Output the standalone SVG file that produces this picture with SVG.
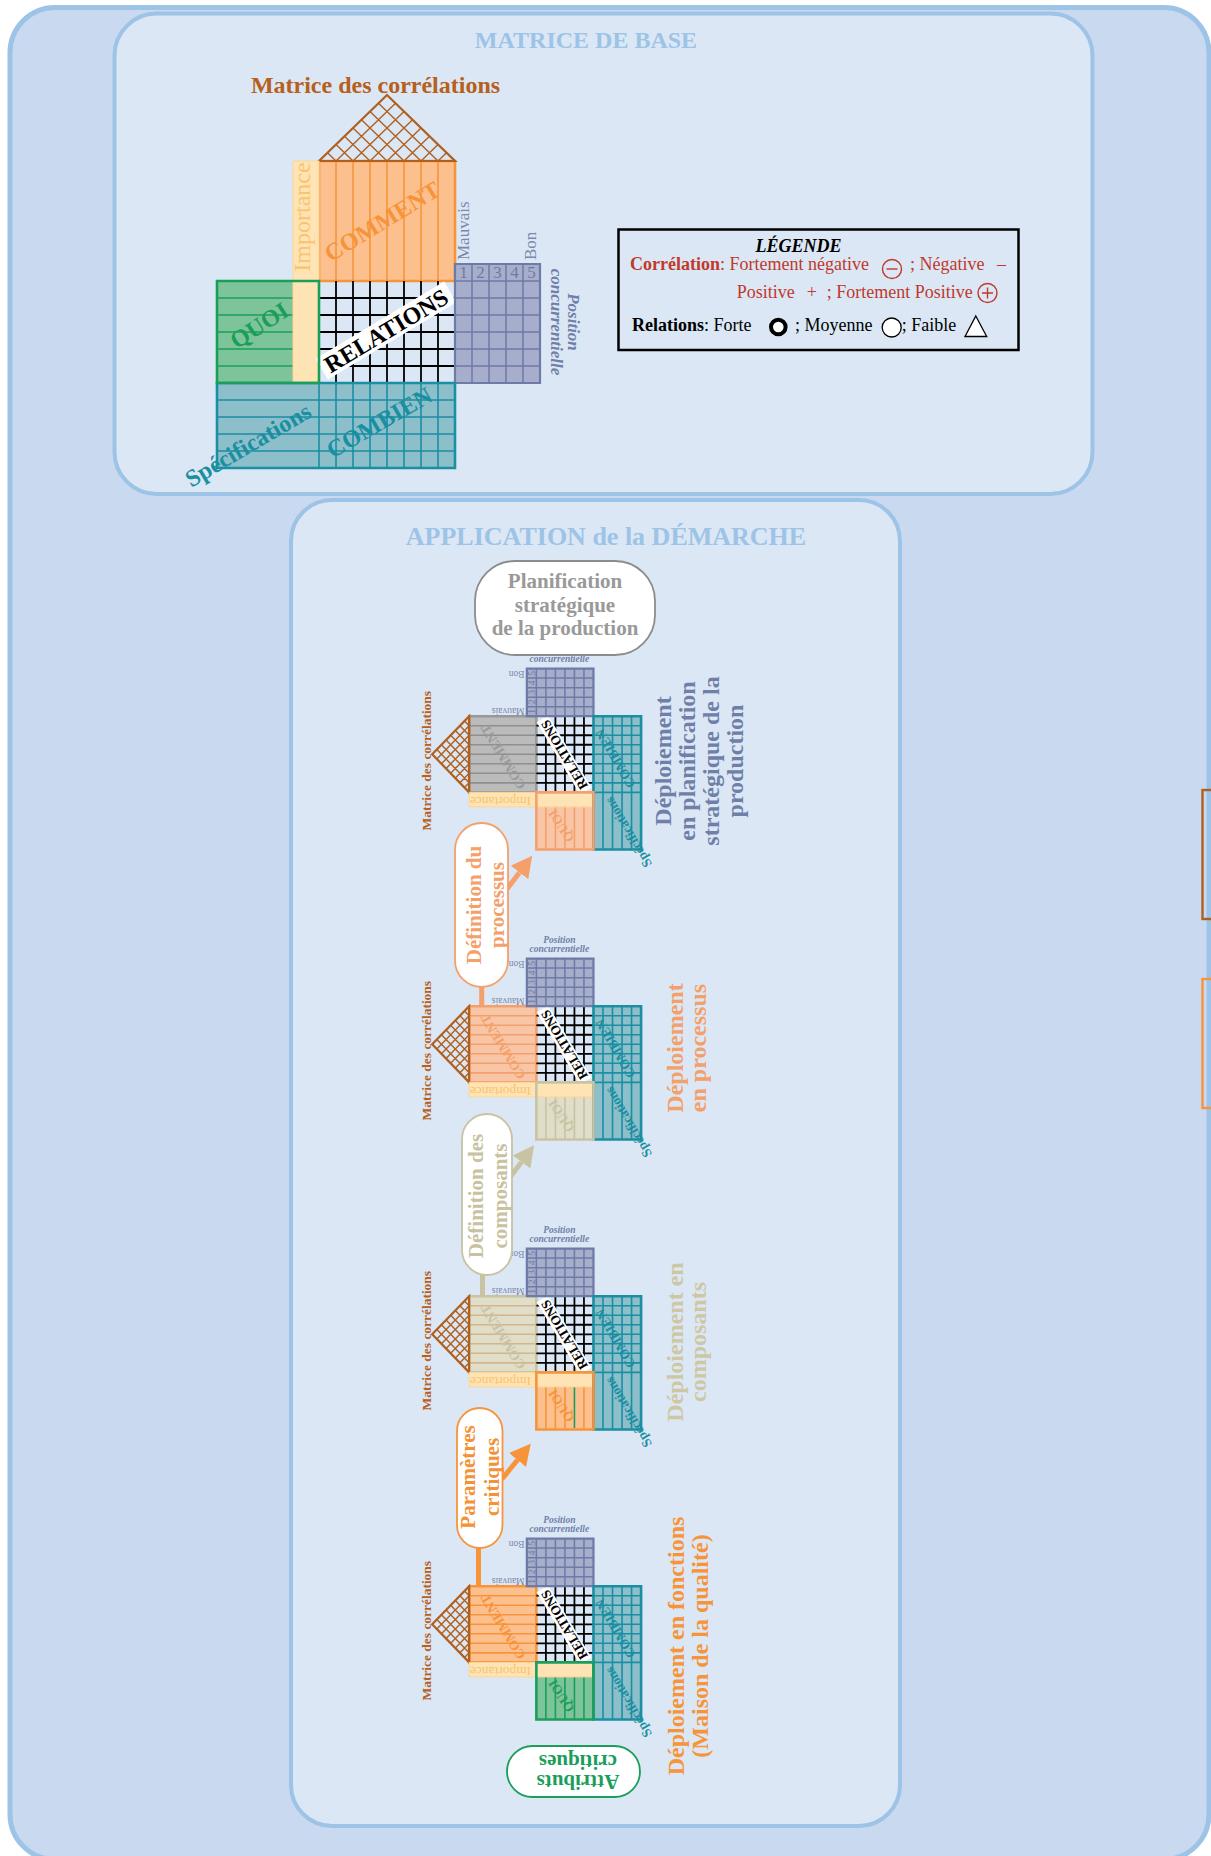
<svg xmlns="http://www.w3.org/2000/svg" width="1211" height="1856" viewBox="0 0 1211 1856">
<style>
  text { font-family: "Liberation Serif", "Times New Roman", serif; }
  .frame { fill:#c9daf0; stroke:#9dc3e6; stroke-width:5; }
  .panel { fill:#dbe7f5; stroke:#9dc3e6; stroke-width:4; }
  .title { fill:#9dc3e6; font-weight:bold; text-anchor:middle; }
  .ve { vector-effect:non-scaling-stroke; }
  .roof { fill:none; stroke:#b0601e; stroke-width:2.2; stroke-linejoin:miter; }
  .hatch { fill:none; stroke:#b0601e; stroke-width:1.4; }
  .imp { fill:#fee3b4; stroke:#fdd596; stroke-width:1; }
  .imp-t { fill:#f9c46e; font-size:24px; text-anchor:middle; }
  .grid { fill:none; stroke:#000; stroke-width:1.8; }
  .pos { fill:#a7aecc; stroke:#6d7ba6; stroke-width:2.2; }
  .pos-l { fill:none; stroke:#6d7ba6; stroke-width:1.5; }
  .pos-n { fill:#6f7aa3; font-size:17px; text-anchor:middle; }
  .pos-t { fill:#7d87ab; font-size:17px; }
  .pos-h { fill:#6f7fa8; font-size:17px; font-weight:bold; font-style:italic; text-anchor:middle; }
  .cmb { fill:#8dbfca; stroke:#1a8fa2; stroke-width:2.6; }
  .cmb-l { fill:none; stroke:#1a8fa2; stroke-width:1.6; }
  .lab { font-size:24px; font-weight:bold; text-anchor:middle; }
  .roof-t { fill:#b6601c; font-size:24px; font-weight:bold; text-anchor:middle; }
  .box { stroke-width:2.6; }
  .stripe { fill:none; stroke-width:1.6; }
  .t-teal { fill:#1a8fa2; }
  .f-green { fill:#7ec49b; } .s-green { stroke:#1a9e5a; } .t-green { fill:#1a9e5a; }
  .f-orange { fill:#fcc08e; } .s-orange { stroke:#f7943a; } .t-orange { fill:#f7943a; }
  .f-salmon { fill:#f8c6a6; } .s-salmon { stroke:#f4a06b; } .t-salmon { fill:#f4a06b; }
  .f-khaki { fill:#e0ddc9; } .s-khaki { stroke:#c8c3a3; } .t-khaki { fill:#c8c3a3; }
  .f-gray { fill:#bbbbbb; } .s-gray { stroke:#999999; } .t-gray { fill:#9a9a9a; }
  .s-gray2 { stroke:#8f8f8f; } .s-tan { stroke:#d2b68c; }
  .bubble { fill:#ffffff; stroke-width:1.8; }
  .btxt { font-size:21px; font-weight:bold; text-anchor:middle; }
  .side { font-size:24px; font-weight:bold; text-anchor:middle; }
  .stem { fill:none; stroke-width:5; }
  .leg { font-size:18px; }
  .red { fill:#c0392b; }
</style>
<defs>
  <marker id="ah-salmon" markerUnits="userSpaceOnUse" markerWidth="22" markerHeight="24" viewBox="0 0 22 24" refX="0" refY="12" orient="auto"><path d="M0,1 L21,12 L0,23 Z" fill="#f4a06b"/></marker>
  <marker id="ah-khaki" markerUnits="userSpaceOnUse" markerWidth="22" markerHeight="24" viewBox="0 0 22 24" refX="0" refY="12" orient="auto"><path d="M0,1 L21,12 L0,23 Z" fill="#c8c3a3"/></marker>
  <marker id="ah-orange" markerUnits="userSpaceOnUse" markerWidth="22" markerHeight="24" viewBox="0 0 22 24" refX="0" refY="12" orient="auto"><path d="M0,1 L21,12 L0,23 Z" fill="#f7943a"/></marker>

  <!-- shared body of the house of quality: roof, importance, relations, position, how much -->
  <g id="core">
    <path class="hatch ve" d="M336,161L395.5,103.25M353,161L404,111.5M370,161L412.5,119.75M387,161L421,128M404,161L429.5,136.25M421,161L438,144.5M438,161L446.5,152.75M336,161L327.5,152.75M353,161L336,144.5M370,161L344.5,136.25M387,161L353,128M404,161L361.5,119.75M421,161L370,111.5M438,161L378.5,103.25"/>
    <path class="roof ve" d="M319,161L387,95L455,161Z"/>
    <text class="roof-t" x="375.5" y="93">Matrice des corrélations</text>
    <rect class="imp ve" x="293" y="161" width="26" height="222"/>
    <text class="imp-t" transform="translate(310,217) rotate(-90)">Importance</text>
    <path class="grid ve" d="M336,281V383M353,281V383M370,281V383M387,281V383M404,281V383M421,281V383M438,281V383M319,298H455M319,315H455M319,332H455M319,349H455M319,366H455"/>
    <g transform="translate(386,330.5) rotate(-31)">
      <rect x="-75" y="-12" width="150" height="24" fill="#ffffff"/>
      <text class="lab" y="8.5" fill="#000">RELATIONS</text>
    </g>
    <rect class="pos ve" x="455" y="264" width="85" height="119"/>
    <path class="pos-l ve" d="M472,264V383M489,264V383M506,264V383M523,264V383M455,281H540M455,298H540M455,315H540M455,332H540M455,349H540M455,366H540"/>
    <text class="pos-n" y="278"><tspan x="463.5">1</tspan><tspan x="480.5">2</tspan><tspan x="497.5">3</tspan><tspan x="514.5">4</tspan><tspan x="531.5">5</tspan></text>
    <text class="pos-t" transform="translate(469,260) rotate(-90)">Mauvais</text>
    <text class="pos-t" transform="translate(536,260) rotate(-90)">Bon</text>
    <text class="pos-h" transform="translate(568,322) rotate(90)"><tspan x="0" y="0">Position</tspan><tspan x="0" dy="17">concurrentielle</tspan></text>
    <rect class="cmb ve" x="217" y="383" width="238" height="85"/>
    <path class="cmb-l ve" d="M319,383V468M336,383V468M353,383V468M370,383V468M387,383V468M404,383V468M421,383V468M438,383V468M217,400H455M217,417H455M217,434H455M217,451H455"/>
    <text class="lab t-teal" transform="translate(379,422) rotate(-30)" y="8.5">COMBIEN</text>
    <text class="lab t-teal" transform="translate(248,445) rotate(-30.5)" y="8">Spécifications</text>
  </g>
</defs>

<!-- background frame and panels -->
<rect class="frame" x="10" y="7.5" width="1199" height="1852" rx="45"/>
<rect x="1202.5" y="790" width="20" height="129" fill="none" stroke="#b0601e" stroke-width="2.4"/>
<rect x="1202.5" y="979" width="20" height="129" fill="none" stroke="#f7943a" stroke-width="2.4"/>

<g id="panel-base">
  <rect class="panel" x="114.5" y="13.5" width="978" height="480.5" rx="42"/>
  <text class="title" x="586" y="48" font-size="24">MATRICE DE BASE</text>
</g>
<g id="panel-application">
  <rect class="panel" x="291" y="500" width="609" height="1326" rx="41"/>
  <text class="title" x="606" y="545" font-size="26">APPLICATION de la DÉMARCHE</text>
</g>

<!-- reference house -->
<g id="house-base">
  <rect class="f-green" x="217" y="281" width="102" height="102"/>
  <path class="s-green stripe ve" d="M217,298H319M217,315H319M217,332H319M217,349H319M217,366H319"/>
  <text class="lab t-green" transform="translate(259,325) rotate(-33)" y="8.5">QUOI</text>
  <rect class="f-orange s-orange box ve" x="319" y="161" width="136" height="120"/>
  <path class="s-orange stripe ve" d="M336,161V281M353,161V281M370,161V281M387,161V281M404,161V281M421,161V281M438,161V281"/>
  <use href="#core"/>
  <rect class="s-green box ve" fill="none" x="217" y="281" width="102" height="102"/>
  <text class="lab t-orange" transform="translate(382,221) rotate(-31.5)" y="8.5">COMMENT</text>
</g>

<!-- legend -->
<g id="legend">
  <rect x="618.5" y="229.5" width="400" height="120.5" fill="none" stroke="#000" stroke-width="2.5"/>
  <text class="leg" x="798.5" y="252" font-weight="bold" font-style="italic" text-anchor="middle">LÉGENDE</text>
  <text class="leg red" y="270"><tspan x="630" font-weight="bold">Corrélation</tspan>: Fortement négative</text>
  <circle cx="892" cy="269" r="9.5" fill="none" stroke="#c0392b" stroke-width="1.4"/>
  <path d="M886.5,269H897.5" stroke="#c0392b" stroke-width="1.4"/>
  <text class="leg red" x="910" y="270">; Négative</text>
  <text class="leg red" x="997" y="270">–</text>
  <text class="leg red" y="298"><tspan x="736.7">Positive</tspan><tspan x="806.7">+</tspan><tspan x="826.7">; Fortement Positive</tspan></text>
  <circle cx="987.5" cy="293" r="9.5" fill="none" stroke="#c0392b" stroke-width="1.4"/>
  <path d="M982,293H993M987.5,287.5V298.5" stroke="#c0392b" stroke-width="1.4"/>
  <text class="leg" y="331"><tspan x="632" font-weight="bold">Relations</tspan>: Forte</text>
  <circle cx="778.3" cy="327" r="7.3" fill="#fff" stroke="#000" stroke-width="4"/>
  <text class="leg" x="795" y="331">; Moyenne</text>
  <circle cx="891.7" cy="327.5" r="9.5" fill="#fff" stroke="#000" stroke-width="1.3"/>
  <text class="leg" x="901.7" y="331">; Faible</text>
  <path d="M975.8,316L986.7,336.5L965,336.5Z" fill="#fff" stroke="#000" stroke-width="1.3"/>
</g>

<!-- deployment cascade: four rotated houses -->
<g id="house-strategie" transform="translate(379 971) scale(0.56) rotate(-90)">
  <rect class="f-salmon" x="217" y="281" width="102" height="102"/>
  <path class="s-salmon stripe ve" d="M217,298H319M217,315H319M217,332H319M217,349H319M217,366H319"/>
  <text class="lab t-salmon" transform="translate(259,325) rotate(-33)" y="8.5">QUOI</text>
  <rect class="f-gray s-gray box ve" x="319" y="161" width="136" height="120"/>
  <path class="s-gray2 stripe ve" d="M336,161V281M353,161V281M370,161V281M387,161V281M404,161V281M421,161V281M438,161V281"/>
  <use href="#core"/>
  <rect class="s-salmon box ve" fill="none" x="217" y="281" width="102" height="102"/>
  <text class="lab t-gray" transform="translate(382,221) rotate(-31.5)" y="8.5">COMMENT</text>
</g>
<g id="house-processus" transform="translate(379 1261) scale(0.56) rotate(-90)">
  <rect class="f-khaki" x="217" y="281" width="102" height="102"/>
  <path class="s-khaki stripe ve" d="M217,298H319M217,315H319M217,332H319M217,349H319M217,366H319"/>
  <text class="lab t-khaki" transform="translate(259,325) rotate(-33)" y="8.5">QUOI</text>
  <rect class="f-salmon s-salmon box ve" x="319" y="161" width="136" height="120"/>
  <path class="s-salmon stripe ve" d="M336,161V281M353,161V281M370,161V281M387,161V281M404,161V281M421,161V281M438,161V281"/>
  <use href="#core"/>
  <rect class="s-khaki box ve" fill="none" x="217" y="281" width="102" height="102"/>
  <text class="lab t-salmon" transform="translate(382,221) rotate(-31.5)" y="8.5">COMMENT</text>
</g>
<g id="house-composants" transform="translate(379 1551) scale(0.56) rotate(-90)">
  <rect class="f-orange" x="217" y="281" width="102" height="102"/>
  <path class="s-orange stripe ve" d="M217,298H319M217,315H319M217,332H319M217,366H319"/>
  <path class="s-green stripe ve" d="M219,349H318"/>
  <text class="lab t-orange" transform="translate(259,325) rotate(-33)" y="8.5">QUOI</text>
  <rect class="f-khaki s-khaki box ve" x="319" y="161" width="136" height="120"/>
  <path class="s-tan stripe ve" d="M336,161V281M353,161V281M370,161V281M387,161V281M404,161V281M421,161V281M438,161V281"/>
  <use href="#core"/>
  <rect class="s-orange box ve" fill="none" x="217" y="281" width="102" height="102"/>
  <text class="lab t-khaki" transform="translate(382,221) rotate(-31.5)" y="8.5">COMMENT</text>
</g>
<g id="house-fonctions" transform="translate(379 1841) scale(0.56) rotate(-90)">
  <rect class="f-green" x="217" y="281" width="102" height="102"/>
  <path class="s-green stripe ve" d="M217,298H319M217,315H319M217,332H319M217,349H319M217,366H319"/>
  <text class="lab t-green" transform="translate(259,325) rotate(-33)" y="8.5">QUOI</text>
  <rect class="f-orange s-orange box ve" x="319" y="161" width="136" height="120"/>
  <path class="s-orange stripe ve" d="M336,161V281M353,161V281M370,161V281M387,161V281M404,161V281M421,161V281M438,161V281"/>
  <use href="#core"/>
  <rect class="s-green box ve" fill="none" x="217" y="281" width="102" height="102"/>
  <text class="lab t-orange" transform="translate(382,221) rotate(-31.5)" y="8.5">COMMENT</text>
</g>

<!-- level captions -->
<g id="caption-strategie">
  <text class="side" fill="#6f7fa8" transform="translate(671,761) rotate(-90)"><tspan x="0" y="0">Déploiement</tspan><tspan x="0" dy="24">en planification</tspan><tspan x="0" dy="24">stratégique de la</tspan><tspan x="0" dy="24">production</tspan></text>
</g>
<g id="caption-processus">
  <text class="side" fill="#f4a06b" transform="translate(683,1048) rotate(-90)"><tspan x="0" y="0">Déploiement</tspan><tspan x="0" dy="23">en processus</tspan></text>
</g>
<g id="caption-composants">
  <text class="side" fill="#cdc7a4" transform="translate(683,1342) rotate(-90)"><tspan x="0" y="0">Déploiement en</tspan><tspan x="0" dy="23">composants</tspan></text>
</g>
<g id="caption-fonctions">
  <text class="side" fill="#f7943a" transform="translate(684,1646) rotate(-90)"><tspan x="0" y="0">Déploiement en fonctions</tspan><tspan x="0" dy="24">(Maison de la qualité)</tspan></text>
</g>

<!-- connectors -->
<g id="connectors">
  <path class="stem" stroke="#f4a06b" d="M481.7,987V1006"/>
  <path class="stem" stroke="#c8c3a3" d="M482.5,1275V1296"/>
  <path class="stem" stroke="#f7943a" d="M478.5,1548V1586"/>
  <path class="stem" stroke="#f4a06b" d="M507,889L519.5,872.5" marker-end="url(#ah-salmon)"/>
  <path class="stem" stroke="#c8c3a3" d="M511,1176L521.5,1162" marker-end="url(#ah-khaki)"/>
  <path class="stem" stroke="#f7943a" d="M502,1479L517.5,1460" marker-end="url(#ah-orange)"/>
</g>

<!-- step bubbles -->
<g id="bubble-planification">
  <rect class="bubble" stroke="#8c8c8c" x="475" y="561" width="180" height="94" rx="40"/>
  <text class="btxt" fill="#999999"><tspan x="565" y="588">Planification</tspan><tspan x="565" y="611.5">stratégique</tspan><tspan x="565" y="635">de la production</tspan></text>
</g>
<g id="bubble-processus">
  <rect class="bubble" stroke="#f4a06b" x="455" y="823" width="53" height="164" rx="26.5"/>
  <text class="btxt" fill="#f4a06b" transform="translate(481,905) rotate(-90)"><tspan x="0" y="0">Définition du</tspan><tspan x="0" dy="22.6">processus</tspan></text>
</g>
<g id="bubble-composants">
  <rect class="bubble" stroke="#c8c3a3" x="462" y="1114" width="50" height="161" rx="25"/>
  <text class="btxt" fill="#c8c2a0" transform="translate(483,1196) rotate(-90)"><tspan x="0" y="0">Définition des</tspan><tspan x="0" dy="23.5">composants</tspan></text>
</g>
<g id="bubble-parametres">
  <rect class="bubble" stroke="#f7943a" x="457" y="1408" width="45.5" height="140" rx="22.75"/>
  <text class="btxt" fill="#f39237" font-size="20.5" transform="translate(474.5,1477) rotate(-90)"><tspan x="0" y="0">Paramètres</tspan><tspan x="0" dy="24.5">critiques</tspan></text>
</g>
<g id="bubble-attributs">
  <rect class="bubble" stroke="#1a9e5a" x="507" y="1746" width="133" height="51" rx="25.5"/>
  <text class="btxt" fill="#1a9e5a" transform="translate(578,1775) rotate(180)"><tspan x="0" y="0">Attributs</tspan><tspan x="0" dy="20">critiques</tspan></text>
</g>
</svg>
